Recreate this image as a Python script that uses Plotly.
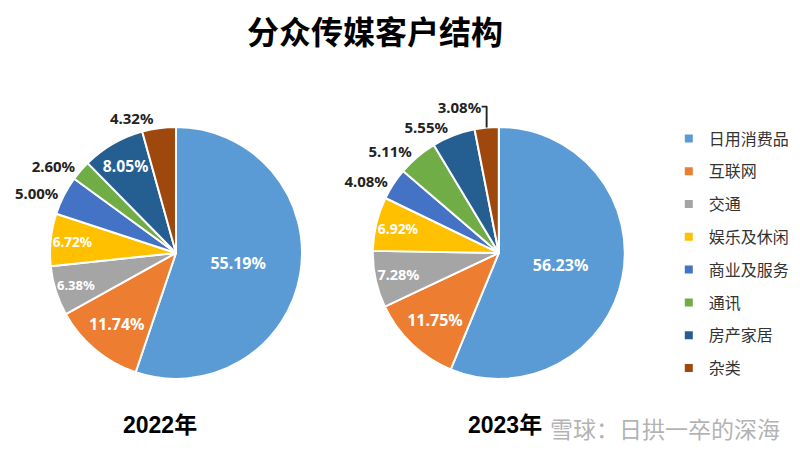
import plotly.graph_objects as go

# ---------------------------------------------------------------------
# Data
# ---------------------------------------------------------------------
categories = ["日用消费品", "互联网", "交通", "娱乐及休闲", "商业及服务", "通讯", "房产家居", "杂类"]
share_2022 = [55.19, 11.74, 6.38, 6.72, 5.00, 2.60, 8.05, 4.32]
share_2023 = [56.23, 11.75, 7.28, 6.92, 4.08, 5.11, 5.55, 3.08]
pos_2022 = ["inside", "inside", "inside", "inside", "outside", "outside", "inside", "outside"]
pos_2023 = ["inside", "inside", "inside", "inside", "outside", "outside", "outside", "outside"]
years = ["2022年", "2023年"]

colors = ["#5B9BD5", "#ED7D31", "#A5A5A5", "#FFC000", "#4472C4", "#70AD47", "#255E91", "#9E480E"]
num_font = "Noto Sans, DejaVu Sans, sans-serif"
cjk_font = "Noto Sans CJK SC, sans-serif"

fig = go.Figure()


def add_pie(values, positions, domain_x, domain_y):
    fig.add_trace(go.Pie(
        labels=categories,
        values=values,
        sort=False,
        direction="clockwise",
        rotation=0,
        marker=dict(colors=colors, line=dict(color="white", width=2)),
        texttemplate="<b>%{value:.2f}%</b>",
        textposition=positions,
        insidetextorientation="horizontal",
        insidetextfont=dict(family=num_font, size=16, color="white"),
        outsidetextfont=dict(family=num_font, size=15, color="#222222"),
        domain=dict(x=domain_x, y=domain_y),
        showlegend=False,
        hoverinfo="label+percent",
    ))


add_pie(share_2022, pos_2022, [0.0525, 0.3675], [0.183, 0.738])
add_pie(share_2023, pos_2023, [0.456, 0.771], [0.183, 0.738])

# legend built from dummy traces so the rows can be spaced like the original
for name, c in zip(categories, colors):
    fig.add_trace(go.Scatter(
        x=[None], y=[None], mode="markers", name=name, legendgroup=name,
        marker=dict(symbol="square", size=8, color=c),
    ))

fig.update_xaxes(visible=False)
fig.update_yaxes(visible=False)

fig.add_annotation(text="<b>分众传媒客户结构</b>", x=0.459, y=0.951, xref="paper", yref="paper",
                   xanchor="center", yanchor="middle", showarrow=False,
                   font=dict(family=cjk_font, size=32, color="black"))
for year, xc in zip(years, [0.19, 0.621]):
    fig.add_annotation(text="<b>" + year + "</b>", x=xc, y=0.082, xref="paper", yref="paper",
                       xanchor="center", yanchor="middle", showarrow=False,
                       font=dict(family="Liberation Sans Narrow, Liberation Sans, Noto Sans CJK SC",
                                 size=23, color="black"))

# watermark
fig.add_annotation(text="雪球：日拱一卒的深海", x=0.821, y=0.075, xref="paper", yref="paper",
                   xanchor="center", yanchor="middle", showarrow=False,
                   font=dict(family=cjk_font, size=23, color="rgba(165,165,165,0.85)"))

fig.update_layout(
    width=800, height=454,
    margin=dict(l=0, r=0, t=0, b=0, autoexpand=False),
    paper_bgcolor="white", plot_bgcolor="white",
    legend=dict(x=0.826, y=0.75, xanchor="left", yanchor="top",
                font=dict(family=cjk_font, size=16, color="#333333"),
                tracegroupgap=9, itemwidth=30),
)

fig.write_html("out.html")
